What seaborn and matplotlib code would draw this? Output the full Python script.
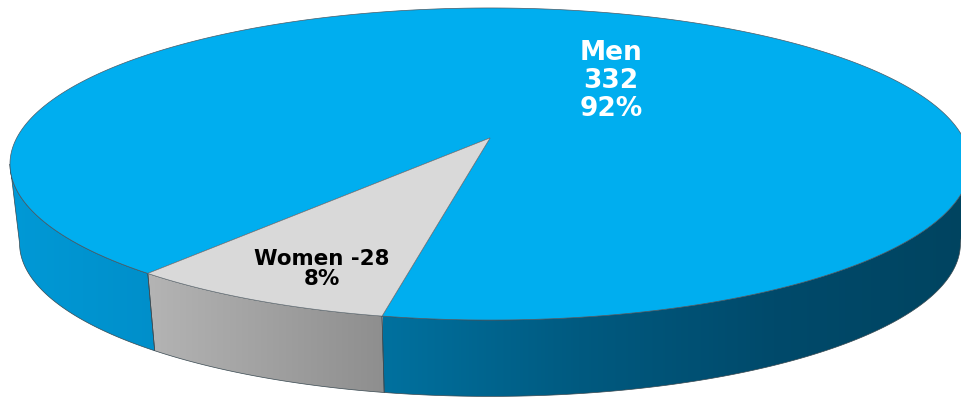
#%%
'''PACKAGE IMPORTS'''
import numpy as np
import matplotlib
matplotlib.use('Agg')
import matplotlib.pyplot as plt
import seaborn as sns

#%%
'''DATA'''
labels = ['Women', 'Men']
counts = [28, 332]
percents = [8, 92]

#%%
'''GEOMETRY (pixels) - a disc seen in perspective'''
cx, cy = 490, 138     #where the disc centre lands
a, b = 473.3, 151.7   #half axes before perspective
k = 1 / 6             #perspective strength
start = 231           #rim angle where the women slice begins

def rim(thetas, scale = 1.0, drop = 0.0):
    u, v = np.cos(np.radians(thetas)), np.sin(np.radians(thetas))
    w = 1 + k * v
    return cx + scale * a * u / w, cy + drop - scale * b * v / w

def wall(ax, t0, t1, colors, x0, x1):
    #side wall between two rim angles, filled with a left to right gradient
    t = np.linspace(t0, t1, 200)
    xt, yt = rim(t)
    xb, yb = rim(t, 0.98, 80)
    xs = np.r_[xt, xb[::-1]]
    ys = np.r_[yt, yb[::-1]]
    poly, = ax.fill(xs, ys, facecolor = 'none', edgecolor = '#37474f', lw = 0.5, zorder = 3)
    cmap = sns.blend_palette(colors, as_cmap = True)
    im = ax.imshow(np.linspace(0, 1, 256)[None, :], cmap = cmap, aspect = 'auto',
                   extent = [x0, x1, 398, 0], zorder = 2)
    im.set_clip_path(poly)

#%%
'''PLOT'''
sns.set_theme(style = 'white')
plt.rcParams['font.family'] = ['DejaVu Sans']

fig = plt.figure(figsize = (9.62, 3.98), dpi = 100, facecolor = 'white')
ax = fig.add_axes([0, 0, 1, 1])

sweep = 360 * counts[0] / sum(counts)
end = start + sweep
left_edge = 180 + np.degrees(np.arcsin(k))
right_edge = 360 - np.degrees(np.arcsin(k))

#Side walls
wall(ax, left_edge, start, ['#0099d6', '#008fca'], 10, 157)
wall(ax, start, end, ['#b4b4b4', '#8e8e8e'], 148, 386)
wall(ax, end, right_edge, ['#00719f', '#005a80', '#004a6b', '#004460'], 383, 970)

#Top slices
t = np.linspace(end, start + 360, 600)
x, y = rim(t)
ax.fill(np.r_[cx, x], np.r_[cy, y], facecolor = '#00aeef', edgecolor = '#4a5a66', lw = 0.5, zorder = 4)
t = np.linspace(start, end, 60)
x, y = rim(t)
ax.fill(np.r_[cx, x], np.r_[cy, y], facecolor = '#d9d9d9', edgecolor = '#6a737a', lw = 0.4, zorder = 5)

#Labels
ax.text(611, 81, f'{labels[1]}\n{counts[1]}\n{percents[1]}%', color = 'white', fontsize = 19,
        fontweight = 'bold', ha = 'center', va = 'center', linespacing = 1.1, zorder = 6)
ax.text(322, 269, f'{labels[0]} -{counts[0]}\n{percents[0]}%', color = 'black', fontsize = 15.4,
        fontweight = 'bold', ha = 'center', va = 'center', linespacing = 1.02, zorder = 6)

ax.set_xlim(0, 962)
ax.set_ylim(398, 0)
ax.axis('off')

fig.savefig('out.png', dpi = 100)
